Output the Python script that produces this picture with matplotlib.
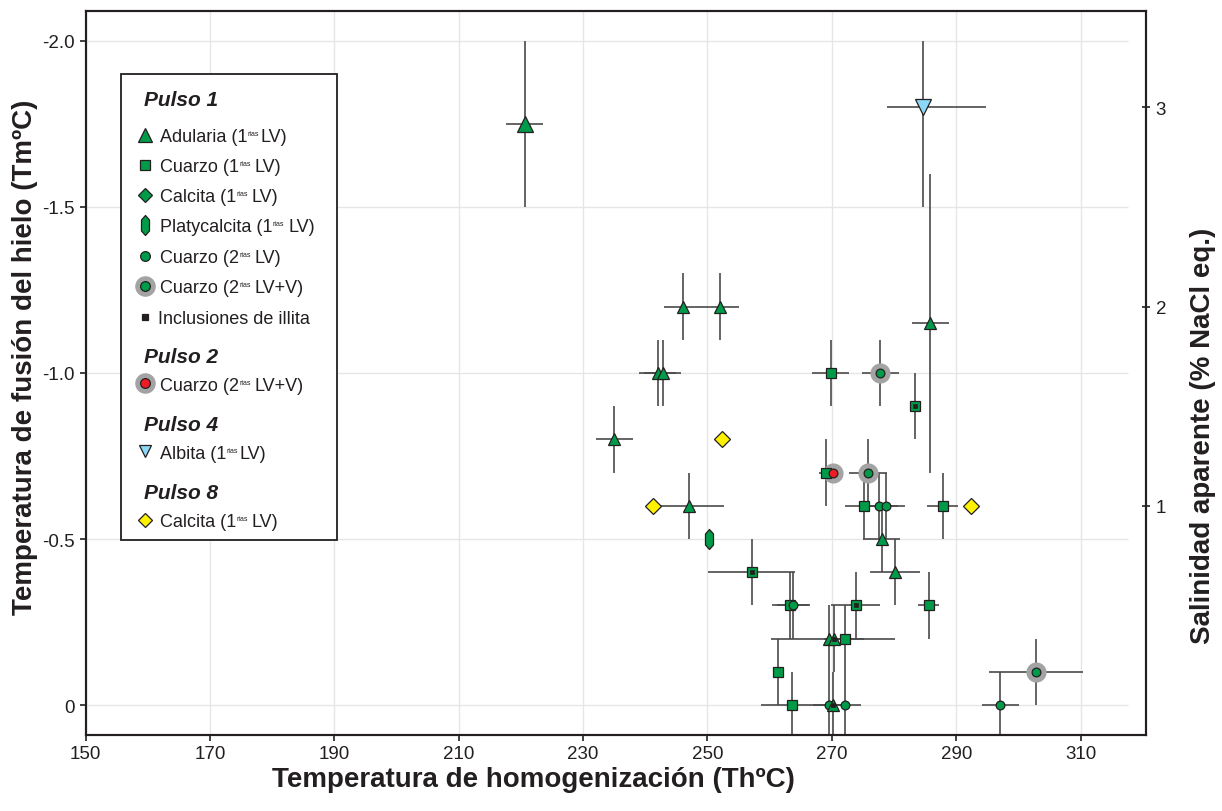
import matplotlib
matplotlib.use('Agg')
import matplotlib.pyplot as plt
from matplotlib.path import Path
from matplotlib.patches import Rectangle

plt.rcParams['font.family'] = ['Liberation Sans', 'DejaVu Sans']
plt.rcParams['axes.unicode_minus'] = False

# ---------------- DATA (Th = x, Tm = y) ----------------
# Pulso 1 - Adularia (1rias LV)  (triangles)
adularia_th = [220.6, 246.0, 252.0, 242.0, 242.8, 235.0, 247.1, 285.8, 278.0, 280.2, 269.6, 270.3, 270.2]
adularia_tm = [-1.75, -1.2, -1.2, -1.0, -1.0, -0.8, -0.6, -1.15, -0.5, -0.4, -0.2, -0.2, 0.0]
adularia_xerr_lo = [3, 3, 3, 3, 3, 3, 5.5, 3, 3, 4, 9.4, 1.5, 2]
adularia_xerr_hi = [3, 3, 3, 3, 3, 3, 5.5, 3, 3, 4, 10.6, 1.5, 2]
adularia_yerr = [0.25, 0.1, 0.1, 0.1, 0.1, 0.1, 0.1, 0.45, 0.1, 0.1, 0.1, 0.1, 0.1]
adularia_big = [True] + [False] * 12

# Pulso 1 - Cuarzo (1rias LV)  (squares)
cuarzo1_th = [269.8, 269.0, 275.1, 287.8, 263.3, 261.3, 263.6, 272.1, 285.6, 283.3, 257.1, 273.8]
cuarzo1_tm = [-1.0, -0.7, -0.6, -0.6, -0.3, -0.1, 0.0, -0.2, -0.3, -0.9, -0.4, -0.3]
cuarzo1_xerr = [3, 1, 3, 2.5, 3, 0, 5, 3, 1.7, 0, 7, 4]
cuarzo1_yerr = [0.1] * 12

# Pulso 1 - Platycalcita (1rias LV)
platy_th = [250.2]
platy_tm = [-0.5]

# Pulso 1 - Cuarzo (2rias LV)  (circles)
cuarzo2_th = [277.6, 278.7, 263.8, 269.5, 272.1, 297.1]
cuarzo2_tm = [-0.6, -0.6, -0.3, 0.0, 0.0, 0.0]
cuarzo2_xerr = [3, 3, 2.6, 2.5, 2.5, 3]
cuarzo2_yerr = [0.1] * 6

# Pulso 1 - Cuarzo (2rias LV+V)  (circles with halo)
cuarzo2v_th = [277.8, 275.8, 302.8]
cuarzo2v_tm = [-1.0, -0.7, -0.1]
cuarzo2v_xerr = [3, 3, 7.5]
cuarzo2v_yerr = [0.1, 0.1, 0.1]

# Pulso 1 - Inclusiones de illita (overlay)
illita_th = [283.3, 257.1, 273.8, 270.3, 270.2]
illita_tm = [-0.9, -0.4, -0.3, -0.2, 0.0]

# Pulso 2 - Cuarzo (2rias LV+V)
p2_th = [270.2]
p2_tm = [-0.7]

# Pulso 4 - Albita (1rias LV)
albita_th = [284.7]
albita_tm = [-1.8]
albita_xerr_lo = [5.8]
albita_xerr_hi = [10.1]
albita_yerr_lo = [0.2]
albita_yerr_hi = [0.3]

# Pulso 8 - Calcita (1rias LV)
p8_th = [252.3, 241.3, 292.4]
p8_tm = [-0.8, -0.6, -0.6]

x_ticks = [150, 170, 190, 210, 230, 250, 270, 290, 310]
y_ticks = [0, -0.5, -1.0, -1.5, -2.0]
y_ticklabels = ['0', '-0.5', '-1.0', '-1.5', '-2.0']
sal_ticks = [-0.6, -1.2, -1.8]
sal_ticklabels = ['1', '2', '3']

# ---------------- STYLE ----------------
GREEN = '#009B48'
EDGE = '#231F20'
HALO = '#A3A3A3'
ECOL = '#4A4A4A'
GRID = '#E6E6E6'
W, H = 1222, 812

fig = plt.figure(figsize=(W / 100, H / 100), dpi=100)
ax = fig.add_axes([85.5 / W, 1 - 736 / H, (1146 - 85.5) / W, (736 - 12) / H])
ax.set_xlim(150, 320.5)
ax.set_ylim(0.09, -2.09)

ax.set_xticks(x_ticks)
ax.set_yticks(y_ticks)
ax.set_yticklabels(y_ticklabels)
ax.grid(True, axis='x', color=GRID, lw=1.0, zorder=0)
ax.hlines(y_ticks, 150, 317.6, color=GRID, lw=1.0, zorder=0.5)
ax.set_axisbelow(True)
ax.tick_params(axis='both', direction='out', length=4.5, width=1.2, color=EDGE,
               labelsize=13.5, labelcolor=EDGE)
ax.tick_params(axis='x', pad=3)
ax.tick_params(axis='y', pad=3)
for s in ax.spines.values():
    s.set_linewidth(1.5)
    s.set_color(EDGE)

ekw = dict(fmt='none', ecolor=ECOL, elinewidth=1.2, capsize=0, zorder=2)

# error bars
ax.errorbar(adularia_th, adularia_tm, xerr=[adularia_xerr_lo, adularia_xerr_hi],
            yerr=adularia_yerr, **ekw)
ax.errorbar(cuarzo1_th, cuarzo1_tm, xerr=cuarzo1_xerr, yerr=cuarzo1_yerr, **ekw)
ax.errorbar(cuarzo2_th, cuarzo2_tm, xerr=cuarzo2_xerr, yerr=cuarzo2_yerr, **ekw)
ax.errorbar(cuarzo2v_th, cuarzo2v_tm, xerr=cuarzo2v_xerr, yerr=cuarzo2v_yerr, **ekw)
ax.errorbar(albita_th, albita_tm, xerr=[albita_xerr_lo, albita_xerr_hi],
            yerr=[albita_yerr_lo, albita_yerr_hi], **ekw)

# halos
ax.plot(cuarzo2v_th, cuarzo2v_tm, 'o', ms=14.5, color=HALO, mec='none', zorder=3)
ax.plot(p2_th, p2_tm, 'o', ms=14.5, color=HALO, mec='none', zorder=3)

mk = dict(linestyle='none', mec=EDGE, mew=0.9, zorder=4)
ax.plot(cuarzo1_th, cuarzo1_tm, 's', ms=7, mfc=GREEN, **mk)
ax.plot(cuarzo2_th, cuarzo2_tm, 'o', ms=6.3, mfc=GREEN, **mk)
ax.plot(cuarzo2v_th, cuarzo2v_tm, 'o', ms=6.3, mfc=GREEN, **mk)
big_x = [x for x, b in zip(adularia_th, adularia_big) if b]
big_y = [y for y, b in zip(adularia_tm, adularia_big) if b]
sm_x = [x for x, b in zip(adularia_th, adularia_big) if not b]
sm_y = [y for y, b in zip(adularia_tm, adularia_big) if not b]
ax.plot(big_x, big_y, '^', ms=11.3, mfc=GREEN, **mk)
ax.plot(sm_x, sm_y, '^', ms=8, mfc=GREEN, **mk)
platy_path = Path([(0, 1), (0.4, 0.55), (0.4, -0.55), (0, -1), (-0.4, -0.55), (-0.4, 0.55), (0, 1)],
                  [Path.MOVETO] + [Path.LINETO] * 5 + [Path.CLOSEPOLY])
ax.plot(platy_th, platy_tm, marker=platy_path, ms=14.4, mfc=GREEN, **mk)
ax.plot(p2_th, p2_tm, 'o', ms=6.3, mfc='#ED1C24', **mk)
ax.plot(albita_th, albita_tm, 'v', ms=11.3, mfc='#8DD8F8', **mk)
ax.plot(p8_th, p8_tm, 'D', ms=8, mfc='#FFF200', **mk)
ax.plot(illita_th, illita_tm, 's', ms=3.3, mfc=EDGE, mec=EDGE, mew=0.5, linestyle='none', zorder=5)

ax2 = ax.twinx()
ax2.set_ylim(ax.get_ylim())
ax2.set_yticks(sal_ticks)
ax2.set_yticklabels(sal_ticklabels)
ax2.tick_params(axis='y', direction='inout', length=6, width=1.2, color=EDGE,
                labelsize=13.5, labelcolor=EDGE, pad=4)
for s in ax2.spines.values():
    s.set_linewidth(1.5)
    s.set_color(EDGE)

# axis titles (positioned as in the reference)
LBL = 20
fig.text(533 / W, 1 - 780 / H, 'Temperatura de homogenización (ThºC)', fontsize=LBL,
         fontweight='bold', color=EDGE, ha='center', va='center')
fig.text(25 / W, 1 - 357 / H, 'Temperatura de fusión del hielo (TmºC)', fontsize=LBL,
         fontweight='bold', color=EDGE, ha='center', va='center', rotation=90)
fig.text(1203 / W, 1 - 436 / H, 'Salinidad aparente (% NaCl eq.)', fontsize=LBL,
         fontweight='bold', color=EDGE, ha='center', va='center', rotation=90)

# ---------------- LEGEND (drawn manually, pixel coordinates) ----------------
legend_headers = ['Pulso 1', 'Pulso 2', 'Pulso 4', 'Pulso 8']
legend_header_y = [99, 355.7, 424, 491.7]
legend_labels = [
    ('Adularia (1', 'rias', 'LV)', 1.5),
    ('Cuarzo (1', 'rias', 'LV)', 4),
    ('Calcita (1', 'rias', 'LV)', 4),
    ('Platycalcita (1', 'rias', 'LV)', 4),
    ('Cuarzo (2', 'rias', 'LV)', 4),
    ('Cuarzo (2', 'rias', 'LV+V)', 4),
    ('Inclusiones de illita', '', '', 0),
    ('Cuarzo (2', 'rias', 'LV+V)', 4),
    ('Albita (1', 'rias', 'LV)', 1.5),
    ('Calcita (1', 'rias', 'LV)', 4),
]
legend_item_y = [135.7, 165.7, 195.7, 225.7, 256.7, 286.7, 317.7, 384.3, 452.3, 520.7]

lax = fig.add_axes([0, 0, 1, 1], zorder=10)
lax.set_xlim(0, W)
lax.set_ylim(H, 0)
lax.axis('off')
lax.add_patch(Rectangle((120.7, 75), 216.6, 465.7, facecolor='white', edgecolor=EDGE, lw=1.3))

renderer = fig.canvas.get_renderer()
for txt, yy in zip(legend_headers, legend_header_y):
    lax.text(144, yy + 7.5, txt, fontsize=15, fontweight='bold', fontstyle='italic',
             color=EDGE, va='baseline', ha='left')

mx = 144.7
lkw = dict(linestyle='none', mec=EDGE, mew=0.9)
markers = [
    dict(marker='^', ms=9.4, mfc=GREEN),
    dict(marker='s', ms=7, mfc=GREEN),
    dict(marker='D', ms=7.6, mfc=GREEN),
    dict(marker=platy_path, ms=14.4, mfc=GREEN),
    dict(marker='o', ms=7, mfc=GREEN),
    dict(marker='o', ms=7, mfc=GREEN),
    dict(marker='s', ms=4.3, mfc=EDGE),
    dict(marker='o', ms=7, mfc='#ED1C24'),
    dict(marker='v', ms=9.2, mfc='#8DD8F8'),
    dict(marker='D', ms=7.6, mfc='#FFF200'),
]
halo_rows = [5, 7]
for i, (lab, yy, m) in enumerate(zip(legend_labels, legend_item_y, markers)):
    if i in halo_rows:
        lax.plot([mx], [yy], 'o', ms=14.8, color=HALO, mec='none')
    lax.plot([mx], [yy], **m, **lkw)
    main, sup, tail, gap = lab
    x0 = 159.7 if i != 6 else 158
    t = lax.text(x0, yy + 6.5, main, fontsize=13, color=EDGE, va='baseline', ha='left')
    if sup:
        w = t.get_window_extent(renderer).width
        t2 = lax.text(x0 + w + 0.5, yy + 0.3, sup, fontsize=5, color=EDGE, va='baseline', ha='left')
        w2 = t2.get_window_extent(renderer).width
        lax.text(x0 + w + 0.5 + w2 + gap, yy + 6.5, tail, fontsize=13, color=EDGE,
                 va='baseline', ha='left')

fig.savefig('out.png', dpi=100)
